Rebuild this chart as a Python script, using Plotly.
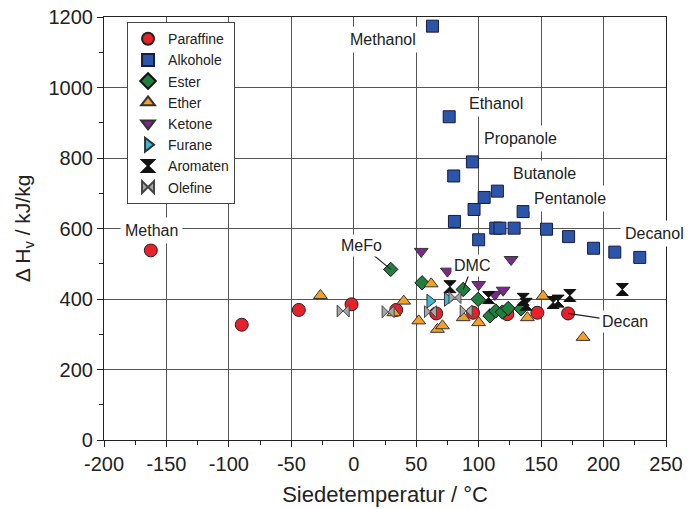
import plotly.graph_objects as go

# ---- data (boiling temperature °C, enthalpy of vaporization kJ/kg) ----
paraffine_x = [-162.5, -89.7, -44, -1.8, 34, 66, 95.5, 123, 147, 171.6]
paraffine_y = [538, 327, 369, 385, 369, 359, 361, 357, 361, 359]

alkohole_x = [63, 76.4, 95, 80, 115, 104.4, 96.3, 80.6, 135.6, 113.7, 117, 128.4, 100, 154.3, 172, 192, 209, 229]
alkohole_y = [1174, 917, 789, 749, 706, 688, 654, 620, 648, 601, 601, 601, 568, 598, 577, 544, 533, 518]

ester_x = [29.6, 54.7, 87.6, 99.6, 109, 113.7, 119, 123.6, 134]
ester_y = [484, 446, 427, 399, 352, 366, 363, 373, 372]

ether_x = [-26.7, 32, 40, 52, 62, 67, 71, 87.6, 100, 139, 151.6, 183.6]
ether_y = [410, 361, 394, 338, 443, 314, 324, 347, 333, 347, 408, 291]

ketone_x = [54, 75, 100, 113, 119.6, 126]
ketone_y = [535, 479, 441, 413, 425, 512]

furane_x = [61, 75]
furane_y = [394, 399]

aromaten_x = [77, 108, 135.6, 138, 159.6, 163.6, 173, 215]
aromaten_y = [435, 404, 399, 385, 390, 394, 410, 427]

olefine_x = [-8.5, 27.5, 61.4, 81, 90]
olefine_y = [366, 364, 364, 404, 366]

x_ticks = [-200, -150, -100, -50, 0, 50, 100, 150, 200, 250]
x_tick_labels = ["-200", "-150", "-100", "-50", "0", "50", "100", "150", "200", "250"]
y_ticks = [0, 200, 400, 600, 800, 1000, 1200]
y_tick_labels = ["0", "200", "400", "600", "800", "1000", "1200"]

labels = ["Methanol", "Ethanol", "Propanole", "Butanole", "Pentanole", "Decanol", "Methan"]
labels_x = [23, 113.7, 133.7, 153, 173, 241, -161.7]
labels_y = [1135, 955, 854, 755, 685, 586, 594]

pointer_labels = ["MeFo", "DMC", "Decan"]
pointer_text_x = [6.4, 95, 217]
pointer_text_y = [552, 496, 335]
pointer_tip_x = [29.6, 87.6, 171.6]
pointer_tip_y = [484, 427, 359]

series = [
    ("Paraffine", paraffine_x, paraffine_y, "circle", "#E8202A", "#222", 13),
    ("Alkohole", alkohole_x, alkohole_y, "square", "#2B55A8", "#1a1a40", 12),
    ("Ester", ester_x, ester_y, "diamond", "#1E7F3E", "#111", 11),
    ("Ether", ether_x, ether_y, "triangle-up", "#F4A024", "#333", 12),
    ("Ketone", ketone_x, ketone_y, "triangle-down", "#7A2A88", "#333", 12),
    ("Furane", furane_x, furane_y, "triangle-right", "#3DB8D2", "#333", 12),
    ("Aromaten", aromaten_x, aromaten_y, "hourglass", "#111111", "#111", 12),
    ("Olefine", olefine_x, olefine_y, "bowtie", "#A6A6A6", "#444", 12),
]

fig = go.Figure()
for name, xs, ys, sym, col, lc, sz in series:
    fig.add_trace(go.Scatter(
        x=xs, y=ys, mode="markers", name=name,
        marker=dict(symbol=sym, color=col, size=sz, line=dict(color=lc, width=1)),
    ))

font_family = "Liberation Sans, Arial, sans-serif"

for t, x, y in zip(labels, labels_x, labels_y):
    fig.add_annotation(x=x, y=y, text=t, showarrow=False, bgcolor="white",
                       borderpad=4, font=dict(size=16, color="#222", family=font_family))

for t, tx, ty, px, py in zip(pointer_labels, pointer_text_x, pointer_text_y, pointer_tip_x, pointer_tip_y):
    fig.add_shape(type="line", x0=tx, y0=ty, x1=px, y1=py, line=dict(color="#222", width=1.2), layer="above")
    fig.add_annotation(x=tx, y=ty, text=t, showarrow=False, bgcolor="white",
                       borderpad=2, font=dict(size=16, color="#222", family=font_family))

# the page body has an 8px default margin: the margins compensate for that offset
fig.update_layout(
    width=694, height=509,
    margin=dict(l=96, r=36, t=9, b=77, autoexpand=False),
    paper_bgcolor="white", plot_bgcolor="white",
    font=dict(family=font_family, color="#222", size=16),
    legend=dict(x=0.041, y=0.988, xanchor="left", yanchor="top",
                bgcolor="white", bordercolor="#444", borderwidth=1,
                font=dict(size=14, family=font_family, color="#222"),
                tracegroupgap=0, itemsizing="constant", itemwidth=30),
    xaxis=dict(range=[-200, 250], tickvals=x_ticks, ticktext=x_tick_labels,
               showgrid=True, gridcolor="#555", gridwidth=1,
               showline=True, linecolor="#222", linewidth=1.2, mirror=True,
               ticks="outside", ticklen=6, tickcolor="#222",
               minor=dict(dtick=25, ticks="outside", ticklen=4, tickcolor="#222", showgrid=False),
               zeroline=False, automargin=False, ticklabeloverflow="allow",
               title=dict(text="Siedetemperatur / °C", font=dict(size=22), standoff=12),
               tickfont=dict(size=20)),
    yaxis=dict(range=[0, 1200], tickvals=y_ticks, ticktext=y_tick_labels,
               showgrid=True, gridcolor="#555", gridwidth=1,
               showline=True, linecolor="#222", linewidth=1.2, mirror=True,
               ticks="outside", ticklen=6, tickcolor="#222",
               minor=dict(dtick=100, ticks="outside", ticklen=4, tickcolor="#222", showgrid=False),
               zeroline=False, automargin=False, ticklabeloverflow="allow",
               title=dict(text="Δ H<sub>v</sub> / kJ/kg", font=dict(size=21), standoff=12),
               tickfont=dict(size=20)),
)

fig.write_html("out.html")
